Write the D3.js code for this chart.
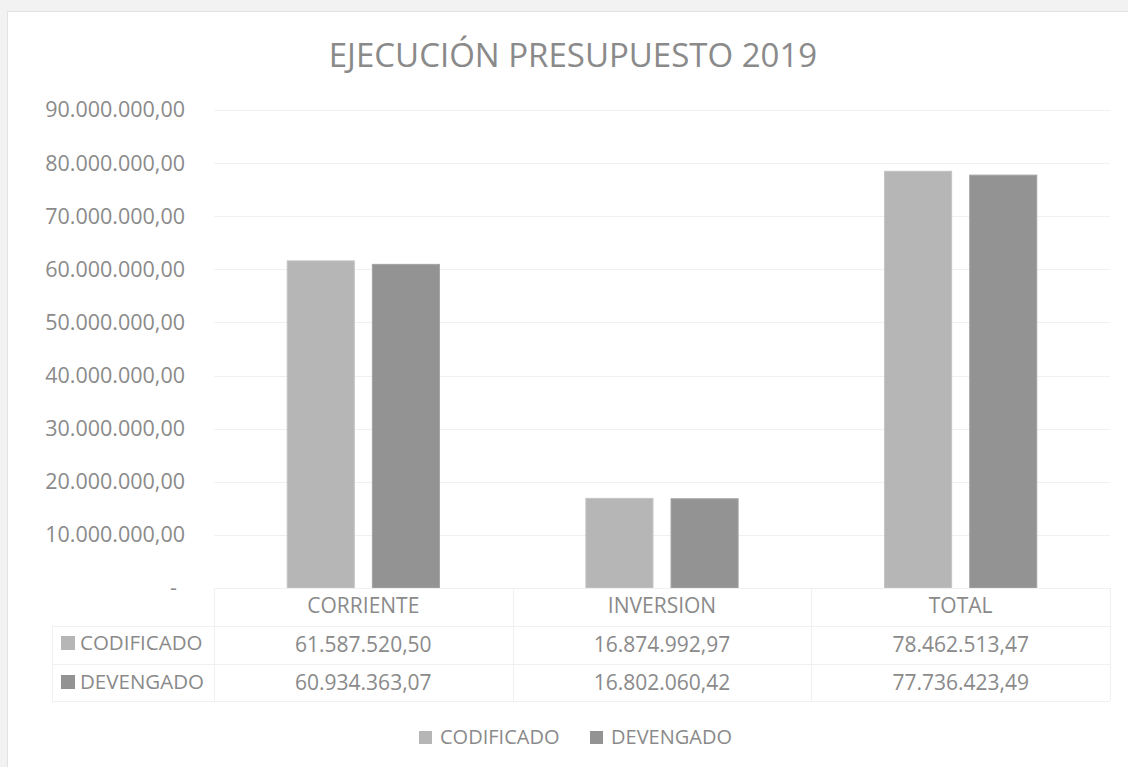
<!DOCTYPE html>
<html>
<head>
<meta charset="utf-8">
<script src="https://cdnjs.cloudflare.com/ajax/libs/d3/7.8.5/d3.min.js"></script>
<style>
  body { margin: 0; background: #f2f2f2; }
  svg { display: block; font-family: "Open Sans", sans-serif; }
</style>
</head>
<body>
<script>
// chart data
const categories = ["CORRIENTE", "INVERSION", "TOTAL"];
const series = ["CODIFICADO", "DEVENGADO"];
const codificado = [61587520.50, 16874992.97, 78462513.47];
const devengado = [60934363.07, 16802060.42, 77736423.49];
const yTicks = [0, 10e6, 20e6, 30e6, 40e6, 50e6, 60e6, 70e6, 80e6, 90e6];
const colors = ["#b6b6b6", "#939393"];

const w = 1128, h = 767;
const txt = "#8a8a8a", grid = "#f0f0f0";

const loc = d3.formatLocale({ decimal: ",", thousands: ".", grouping: [3], currency: ["", ""] });
const fmt = loc.format(",.2f");

const svg = d3.select("body").append("svg")
  .attr("width", w)
  .attr("height", h);

// chart box
svg.append("rect")
  .attr("x", 7.5).attr("y", 11.5)
  .attr("width", w).attr("height", h)
  .attr("fill", "#fff")
  .attr("stroke", "#e2e2e2");

svg.append("text")
  .attr("x", 573).attr("y", 67)
  .attr("text-anchor", "middle")
  .attr("font-size", 33)
  .attr("fill", txt)
  .text("EJECUCIÓN PRESUPUESTO 2019");

const x0 = d3.scaleBand().domain(categories).range([214, 1110]);
const x1 = d3.scaleBand().domain(series).range([0, x0.bandwidth()])
  .paddingInner(0.212).paddingOuter(0.86);
const y = d3.scaleLinear().domain([0, 90e6]).range([588, 110]);

// gridlines
svg.append("g")
  .selectAll("line")
  .data(yTicks.slice(1))
  .join("line")
  .attr("x1", 214).attr("x2", 1110)
  .attr("y1", d => Math.round(y(d)) + 0.5)
  .attr("y2", d => Math.round(y(d)) + 0.5)
  .attr("stroke", grid);

// y axis labels
const yAxis = d3.axisLeft(y)
  .tickValues(yTicks)
  .tickSize(0)
  .tickPadding(0)
  .tickFormat(d => d === 0 ? "-" : fmt(d));

svg.append("g")
  .attr("transform", "translate(185,0)")
  .call(yAxis)
  .call(g => g.select(".domain").remove())
  .call(g => g.selectAll("text")
    .attr("font-size", 21.5)
    .attr("font-family", "Open Sans")
    .attr("fill", txt))
  .call(g => g.selectAll(".tick").filter(d => d === 0).select("text").attr("x", -8));

// bars
const values = [codificado, devengado];
const groups = svg.append("g")
  .selectAll("g")
  .data(categories)
  .join("g")
  .attr("transform", d => "translate(" + x0(d) + ",0)");

groups.selectAll("rect")
  .data((c, i) => series.map((s, j) => ({ s: s, v: values[j][i], j: j })))
  .join("rect")
  .attr("x", d => x1(d.s))
  .attr("y", d => y(d.v))
  .attr("width", x1.bandwidth())
  .attr("height", d => y(0) - y(d.v))
  .attr("fill", d => colors[d.j])
  .attr("stroke", d => d.j === 0 ? "#c4c4c4" : "#a4a4a4")
  .attr("stroke-width", 1);

// data table
const rowTop = [588, 626, 664, 701];
const tbl = svg.append("g").attr("stroke", grid).attr("fill", "none");
// horizontal lines
tbl.append("line").attr("x1", 214).attr("x2", 1110).attr("y1", rowTop[0] + 0.5).attr("y2", rowTop[0] + 0.5);
rowTop.slice(1).forEach(r => {
  tbl.append("line").attr("x1", 52).attr("x2", 1110).attr("y1", r + 0.5).attr("y2", r + 0.5);
});
// vertical lines
tbl.append("line").attr("x1", 52.5).attr("x2", 52.5).attr("y1", rowTop[1]).attr("y2", rowTop[3]);
[214, 214 + x0.bandwidth(), 214 + 2 * x0.bandwidth(), 1110].forEach(xv => {
  tbl.append("line").attr("x1", Math.round(xv) + 0.5).attr("x2", Math.round(xv) + 0.5)
    .attr("y1", rowTop[0]).attr("y2", rowTop[3]);
});

const tableText = svg.append("g").attr("font-size", 21).attr("fill", txt).attr("text-anchor", "middle");
categories.forEach((c, i) => {
  const cx = x0(c) + x0.bandwidth() / 2;
  tableText.append("text").attr("x", cx).attr("y", 613).text(c);
  tableText.append("text").attr("x", cx).attr("y", 652).text(fmt(codificado[i]));
  tableText.append("text").attr("x", cx).attr("y", 690).text(fmt(devengado[i]));
});

const labelY = [650, 689];
series.forEach((s, j) => {
  svg.append("rect").attr("x", 61).attr("y", labelY[j] - 14).attr("width", 14).attr("height", 14).attr("fill", colors[j]);
  svg.append("text").attr("x", 80).attr("y", labelY[j]).attr("font-size", 20.5).attr("fill", txt).text(s);
});

// legend
const legendX = [419, 590];
series.forEach((s, j) => {
  svg.append("rect").attr("x", legendX[j]).attr("y", 731).attr("width", 13).attr("height", 13).attr("fill", colors[j]);
  svg.append("text").attr("x", legendX[j] + 21).attr("y", 744).attr("font-size", 20).attr("fill", txt).text(s);
});
</script>
</body>
</html>
